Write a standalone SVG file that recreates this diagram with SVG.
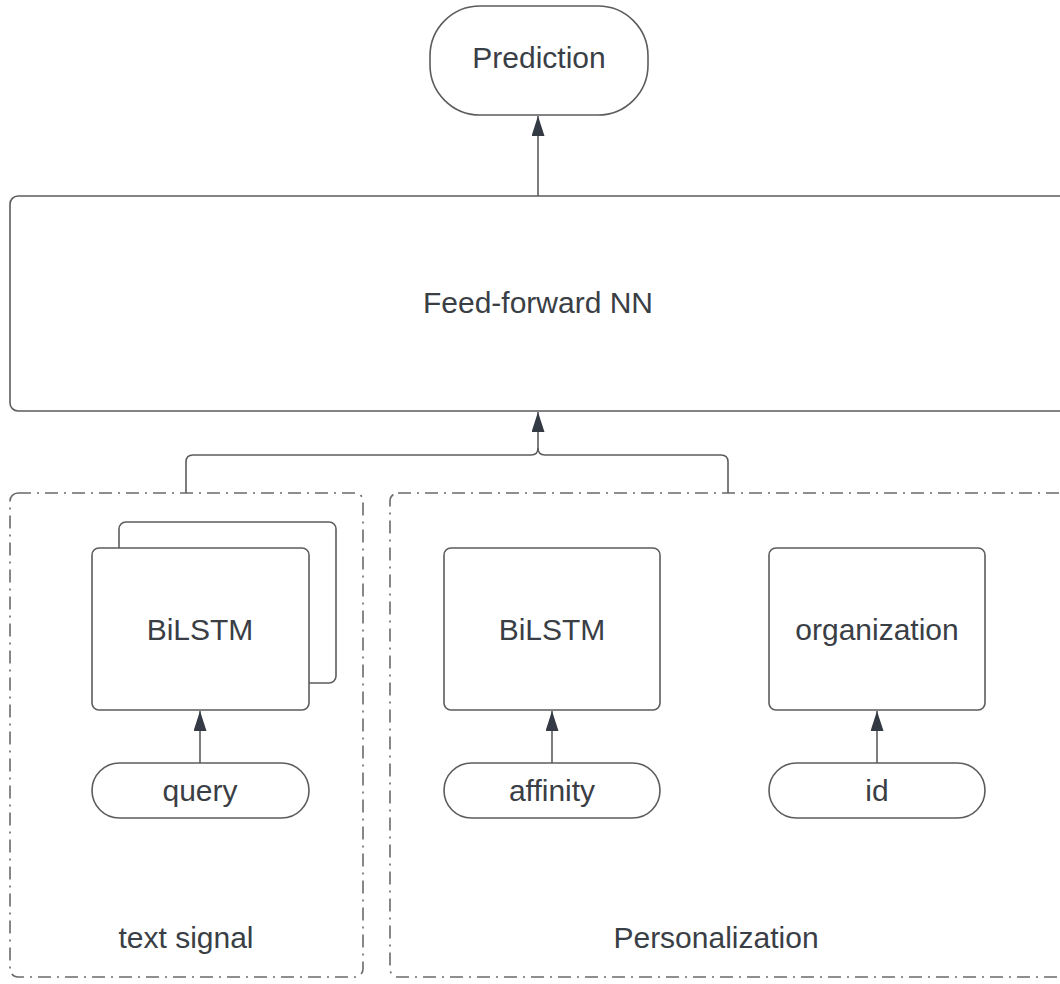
<svg xmlns="http://www.w3.org/2000/svg" width="1060" height="984" viewBox="0 0 1060 984">
<defs>
<marker id="ah" markerUnits="userSpaceOnUse" markerWidth="22" markerHeight="14" refX="20" refY="6.5" orient="auto">
<path d="M0,0 L20,6.5 L0,13 Z" fill="#333a44"/>
</marker>
<style>
.box{fill:#fff;stroke:#5c5c5c;stroke-width:1.6}
.grp{fill:none;stroke:#6a6a6a;stroke-width:1.6;stroke-dasharray:13 6 2 6}
.lbl{font-family:"Liberation Sans",Arial,sans-serif;font-size:30px;fill:#3a3e45;text-anchor:middle}
.edge{fill:none;stroke:#5c5c5c;stroke-width:1.6}
</style>
</defs>
<rect width="1060" height="984" fill="#fff"/>

<g id="text-signal">
<rect class="grp" x="10" y="493" width="353" height="484" rx="8"/>
<text class="lbl" x="186" y="948">text signal</text>
</g>
<g id="personalization">
<rect class="grp" x="390" y="493" width="720" height="484" rx="8"/>
<text class="lbl" x="716" y="948">Personalization</text>
</g>

<g id="prediction">
<rect class="box" x="430" y="6" width="218" height="109" rx="50"/>
<text class="lbl" x="539" y="68">Prediction</text>
</g>
<g id="ffnn">
<rect class="box" x="10" y="196" width="1080" height="215" rx="8"/>
<text class="lbl" x="538" y="313">Feed-forward NN</text>
</g>
<g id="bilstm-text">
<rect class="box" x="119" y="522" width="217" height="161" rx="7"/>
<rect class="box" x="92" y="548" width="217" height="162" rx="7"/>
<text class="lbl" x="200" y="640">BiLSTM</text>
</g>
<g id="query">
<rect class="box" x="92" y="763" width="217" height="55" rx="27.5"/>
<text class="lbl" x="200" y="801">query</text>
</g>
<g id="bilstm-aff">
<rect class="box" x="444" y="548" width="216" height="162" rx="7"/>
<text class="lbl" x="552" y="640">BiLSTM</text>
</g>
<g id="affinity">
<rect class="box" x="444" y="763" width="216" height="55" rx="27.5"/>
<text class="lbl" x="552" y="801">affinity</text>
</g>
<g id="organization">
<rect class="box" x="769" y="548" width="216" height="162" rx="7"/>
<text class="lbl" x="877" y="640">organization</text>
</g>
<g id="id">
<rect class="box" x="769" y="763" width="216" height="55" rx="27.5"/>
<text class="lbl" x="877" y="801">id</text>
</g>

<g id="connectors">
<line class="edge" x1="538" y1="196" x2="538" y2="116" marker-end="url(#ah)"/>
<path class="edge" d="M186,493 V462 Q186,455 193,455 H531 Q538,455 538,448 V412" marker-end="url(#ah)"/>
<path class="edge" d="M728,493 V462 Q728,455 721,455 H545 Q538,455 538,448"/>
<line class="edge" x1="200" y1="763" x2="200" y2="711" marker-end="url(#ah)"/>
<line class="edge" x1="552" y1="763" x2="552" y2="711" marker-end="url(#ah)"/>
<line class="edge" x1="877" y1="763" x2="877" y2="711" marker-end="url(#ah)"/>
</g>
</svg>
